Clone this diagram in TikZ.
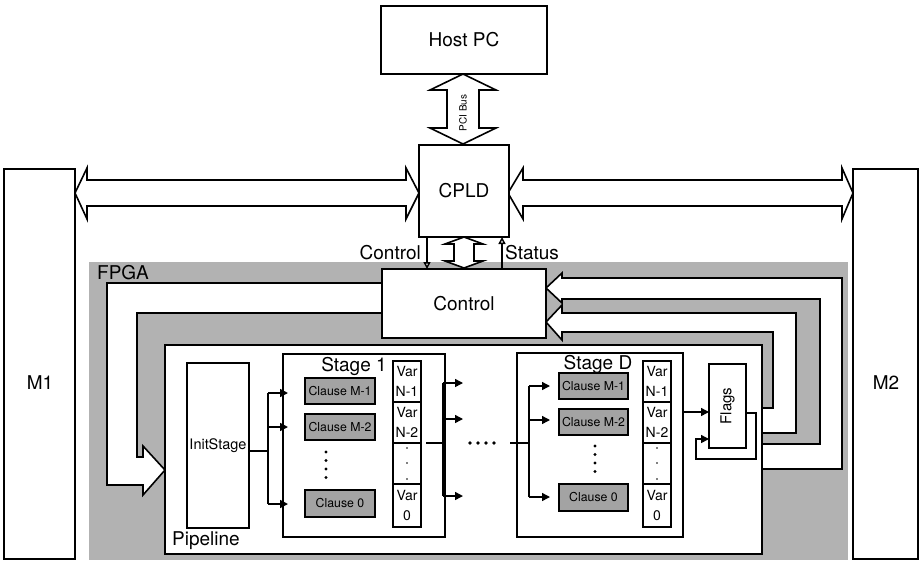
\documentclass[tikz,border=0pt]{standalone}
\usepackage{fontspec}
\setmainfont{TeX Gyre Heros}
\usetikzlibrary{arrows.meta}
\definecolor{fpgagray}{gray}{0.70}
\definecolor{clausegray}{gray}{0.64}
\begin{document}
\begin{tikzpicture}[x=1pt,y=-1pt,
  blk/.style={draw, fill=white, line width=1.6pt, inner sep=0pt, outer sep=0pt, anchor=north west, font=\fontsize{19}{22}\selectfont},
  clausebox/.style={blk, fill=clausegray, minimum height=26pt, font=\fontsize{12.3}{14}\selectfont},
  varcell/.style={blk, minimum width=28pt, minimum height=41pt, align=center, font=\fontsize{14}{20}\selectfont},
  pipe/.style={draw, fill=white, line width=1.6pt, line join=miter},
  conn/.style={line width=1.5pt},
  fan/.style={conn, -{Triangle[length=8pt,width=8pt]}},
  sigarrow/.style={conn, -{Triangle[open, fill=white, length=7pt, width=7pt]}},
  lbl/.style={font=\fontsize{19}{22}\selectfont, inner sep=0pt},
  dotm/.style={fill=black}
]
\useasboundingbox (0,0) rectangle (923,560);

% FPGA region
\fill[fpgagray] (89,262) rectangle (848,560);
\node[lbl, anchor=west] (fpgalbl) at (97,273) {FPGA};

% pipes inside FPGA
\path[pipe] (382,283) -- (107,283) -- (107,485) -- (143,485) -- (143,495) -- (165,470) -- (143,446) -- (143,457) -- (137,457) -- (137,313) -- (382,313) -- cycle;
\path[pipe] (546,288) -- (562,273) -- (562,278) -- (842,278) -- (842,469) -- (762,469) -- (762,444) -- (820,444) -- (820,299) -- (562,299) -- (562,303) -- cycle;
\path[pipe] (546,322) -- (562,305) -- (562,313) -- (796,313) -- (796,433) -- (762,433) -- (762,408) -- (773,408) -- (773,332) -- (562,332) -- (562,340) -- cycle;

% bus arrows
\path[pipe] (463,74) -- (496,90) -- (479,90) -- (479,128) -- (496,128) -- (463,144) -- (430,128) -- (447,128) -- (447,90) -- (430,90) -- cycle;
\path[pipe] (464,237) -- (483,244) -- (474,244) -- (474,261) -- (483,261) -- (464,268) -- (445,261) -- (454,261) -- (454,244) -- (445,244) -- cycle;
\path[pipe] (75,193) -- (87,168) -- (87,180) -- (406,180) -- (406,168) -- (419,193) -- (406,219) -- (406,206) -- (87,206) -- (87,219) -- cycle;
\path[pipe] (508,193) -- (523,168) -- (523,180) -- (842,180) -- (842,168) -- (853,193) -- (842,219) -- (842,206) -- (523,206) -- (523,219) -- cycle;
\node[rotate=90, font=\fontsize{10}{12}\selectfont, inner sep=0pt] (pcilbl) at (463,113) {PCI Bus};

% main blocks
\node[blk, minimum width=166pt, minimum height=68pt] (host) at (381,6) {Host PC};
\node[blk, minimum width=90pt, minimum height=92pt] (cpld) at (419,145) {CPLD};
\node[blk, minimum width=71pt, minimum height=390pt] (m1) at (4,169) {};
\node[blk, minimum width=65pt, minimum height=390pt] (m2) at (853,169) {};
\node[lbl] (m1lbl) at (40,383) {M1};
\node[lbl] (m2lbl) at (886,383) {M2};
\node[blk, minimum width=164pt, minimum height=69pt] (control) at (382,269) {Control};

% control / status signals
\draw[sigarrow] (427,0 |- cpld.south) -- (427,0 |- control.north);
\draw[sigarrow] (502,0 |- control.north) -- (502,0 |- cpld.south);
\node[lbl, anchor=east] (ctrllbl) at (421,253) {Control};
\node[lbl, anchor=west] (statlbl) at (505,253) {Status};

% pipeline
\node[blk, minimum width=597pt, minimum height=209pt] (pipeline) at (165,345) {};
\node[lbl, anchor=west] (pipelbl) at (172,541) {Pipeline};
\node[blk, minimum width=62pt, minimum height=165pt, font=\fontsize{14.5}{16}\selectfont] (init) at (187,363) {InitStage};

% stage 1
\node[blk, minimum width=162pt, minimum height=183pt] (stage1) at (283,354) {};
\node[lbl] (s1lbl) at (354,366) {Stage 1};
\node[clausebox, minimum width=70pt] (c1a) at (305,378) {Clause M-1};
\node[clausebox, minimum width=70pt] (c1b) at (305,414) {Clause M-2};
\node[clausebox, minimum width=70pt, minimum height=27pt] (c1z) at (305,490) {Clause 0};
\foreach \y in {452,460.5,469,477.5} \fill (326,\y) circle (1.6);
\node[varcell] (v1a) at (393,361) {Var\\N-1};
\node[varcell] (v1b) at (393,402) {Var\\N-2};
\node[varcell] (v1c) at (393,443) {};
\node[varcell, minimum height=43pt] (v1z) at (393,484) {Var\\0};
\foreach \y in {448,463,479} \fill (407,\y) circle (0.9);

% stage D
\node[blk, minimum width=166pt, minimum height=184pt] (stageD) at (517,353) {};
\node[lbl] (sDlbl) at (598,364) {Stage D};
\node[clausebox, minimum width=69pt] (cDa) at (559,373) {Clause M-1};
\node[clausebox, minimum width=69pt] (cDb) at (559,409) {Clause M-2};
\node[clausebox, minimum width=69pt, minimum height=27pt] (cDz) at (559,484) {Clause 0};
\foreach \y in {446,454.5,463,471.5} \fill (595,\y) circle (1.6);
\node[varcell] (vDa) at (643,361) {Var\\N-1};
\node[varcell] (vDb) at (643,402) {Var\\N-2};
\node[varcell] (vDc) at (643,443) {};
\node[varcell, minimum height=43pt] (vDz) at (643,484) {Var\\0};
\foreach \y in {448,463,479} \fill (657,\y) circle (0.9);

% flags
\node[blk, minimum width=37pt, minimum height=84pt] (flags) at (709,364) {};
\node[rotate=90, font=\fontsize{15}{17}\selectfont, inner sep=0pt] (flagslbl) at (flags.center) {Flags};

% init fan-out
\coordinate (f1) at (268,451);
\draw[conn] (init.east |- f1) -- (f1);
\draw[conn] (268,393) -- (268,504);
\draw[fan] (268,393) -- (288,393);
\draw[fan] (268,427) -- (288,427);
\draw[fan] (268,504) -- (288,504);

% stage 1 output bus
\coordinate (b1) at (443,443);
\draw[conn] (426,443) -- (b1);
\draw[conn] (443,383) -- (443,496);
\draw[fan] (443,383) -- (463,383);
\draw[fan] (443,419) -- (463,419);
\draw[fan] (443,496) -- (463,496);
\foreach \x in {470,478,486,494} \fill (\x,443) circle (1.8);

% stage D input bus
\coordinate (bD) at (529,443);
\draw[conn] (510,443) -- (bD);
\draw[conn] (529,386) -- (529,497);
\draw[fan] (529,386) -- (550,386);
\draw[fan] (529,420) -- (550,420);
\draw[fan] (529,497) -- (550,497);

% flags connections
\draw[fan] (stageD.east |- 0,412) -- (flags.west |- 0,412);
\draw[fan] (flags.east |- 0,413) -- (756,413) -- (756,459) -- (696,459) -- (696,439) -- (flags.west |- 0,439);
\end{tikzpicture}
\end{document}
